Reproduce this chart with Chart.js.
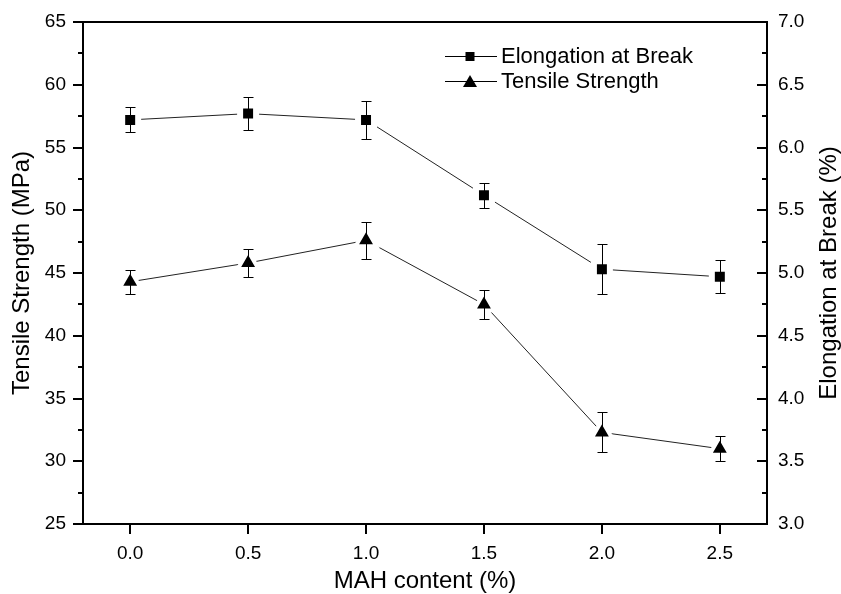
<!DOCTYPE html>
<html><head><meta charset="utf-8">
<script src="https://cdn.jsdelivr.net/npm/chart.js@4.4.0/dist/chart.umd.min.js"></script>
<style>html,body{margin:0;padding:0;background:#fff;}canvas{display:block;}</style>
</head><body>
<canvas id="c" width="841" height="594"></canvas>
<script>
const mahContent = [0.0, 0.5, 1.0, 1.5, 2.0, 2.5];
const tensileStrength = [44.3, 45.8, 47.6, 42.5, 32.3, 31.0];
const tensileErr = [0.95, 1.15, 1.5, 1.15, 1.6, 1.0];
const elongation = [6.22, 6.27, 6.22, 5.62, 5.03, 4.97];
const elongationErr = [0.10, 0.13, 0.15, 0.10, 0.20, 0.13];
const xTicks = [0.0, 0.5, 1.0, 1.5, 2.0, 2.5];
const leftTicks = [25, 27.5, 30, 32.5, 35, 37.5, 40, 42.5, 45, 47.5, 50, 52.5, 55, 57.5, 60, 62.5, 65];
const leftMajor = [25, 30, 35, 40, 45, 50, 55, 60, 65];
const rightTicks = [3.0, 3.25, 3.5, 3.75, 4.0, 4.25, 4.5, 4.75, 5.0, 5.25, 5.5, 5.75, 6.0, 6.25, 6.5, 6.75, 7.0];
const rightMajor = [3.0, 3.5, 4.0, 4.5, 5.0, 5.5, 6.0, 6.5, 7.0];
const seriesNames = ['Elongation at Break', 'Tensile Strength'];

const FONT = "'Liberation Sans', Arial, sans-serif";
Chart.defaults.font.family = FONT;
Chart.defaults.color = '#000';

const errorBars = {
  id: 'errorBars',
  afterDatasetsDraw(chart) {
    const ctx = chart.ctx, xs = chart.scales.x;
    chart.data.datasets.forEach(ds => {
      const ys = chart.scales[ds.yAxisID];
      ctx.save();
      ctx.strokeStyle = '#000'; ctx.lineWidth = 1;
      ds.data.forEach((p, j) => {
        const e = ds.errors[j];
        const x = Math.round(xs.getPixelForValue(p.x)) + 0.5;
        const y1 = Math.round(ys.getPixelForValue(p.y + e)) + 0.5;
        const y2 = Math.round(ys.getPixelForValue(p.y - e)) + 0.5;
        ctx.beginPath();
        ctx.moveTo(x, y1); ctx.lineTo(x, y2);
        ctx.moveTo(x - 5, y1); ctx.lineTo(x + 5, y1);
        ctx.moveTo(x - 5, y2); ctx.lineTo(x + 5, y2);
        ctx.stroke();
      });
      ctx.restore();
    });
  }
};

const decor = {
  id: 'decor',
  afterDraw(chart) {
    const {ctx, chartArea: a, scales} = chart;
    ctx.save();
    ctx.strokeStyle = '#000'; ctx.lineWidth = 2;
    ctx.beginPath();
    ctx.moveTo(a.left - 1, a.top); ctx.lineTo(a.right + 1, a.top);
    ctx.stroke();
    ctx.beginPath();
    scales.y.ticks.forEach(t => {
      const y = Math.round(scales.y.getPixelForValue(t.value));
      const len = leftMajor.includes(t.value) ? 10 : 5;
      ctx.moveTo(a.left, y); ctx.lineTo(a.left - len, y);
    });
    scales.y2.ticks.forEach(t => {
      const y = Math.round(scales.y2.getPixelForValue(t.value));
      const len = rightMajor.includes(t.value) ? 10 : 5;
      ctx.moveTo(a.right, y); ctx.lineTo(a.right - len, y);
    });
    scales.x.ticks.forEach(t => {
      const x = Math.round(scales.x.getPixelForValue(t.value));
      ctx.moveTo(x, a.bottom); ctx.lineTo(x, a.bottom + 10);
    });
    ctx.stroke();

    // right axis title (reads bottom to top)
    ctx.fillStyle = '#000';
    ctx.font = '24px ' + FONT;
    ctx.textAlign = 'center'; ctx.textBaseline = 'middle';
    ctx.save();
    ctx.translate(829, (a.top + a.bottom) / 2);
    ctx.rotate(-Math.PI / 2);
    ctx.fillText('Elongation at Break (%)', 0, 0);
    ctx.restore();

    // legend
    const lx0 = 445, lx1 = 497, mx = 470, tx = 501;
    const rows = [56, 81];
    ctx.lineWidth = 1;
    ctx.font = '22px ' + FONT;
    ctx.textAlign = 'left';
    rows.forEach((ry, i) => {
      ctx.beginPath(); ctx.moveTo(lx0, ry + 0.5); ctx.lineTo(lx1, ry + 0.5); ctx.stroke();
      ctx.fillStyle = '#000';
      if (i === 0) {
        ctx.fillRect(mx - 4.5, ry - 4, 9, 9);
      } else {
        ctx.beginPath();
        ctx.moveTo(mx, ry - 6); ctx.lineTo(mx + 7, ry + 6); ctx.lineTo(mx - 7, ry + 6);
        ctx.closePath(); ctx.fill();
      }
      ctx.fillText(seriesNames[i], tx, ry + 1);
    });
    ctx.restore();
  }
};

const toPts = (xs, ys) => xs.map((x, i) => ({x, y: ys[i]}));

new Chart(document.getElementById('c'), {
  type: 'line',
  data: {
    datasets: [
      {
        label: seriesNames[0], data: toPts(mahContent, elongation), errors: elongationErr,
        yAxisID: 'y2', borderColor: '#222', borderWidth: 1,
        pointStyle: 'rect', pointRadius: 11.3, pointBackgroundColor: '#000',
        pointBorderColor: '#fff', pointBorderWidth: 6, fill: false, tension: 0
      },
      {
        label: seriesNames[1], data: toPts(mahContent, tensileStrength), errors: tensileErr,
        yAxisID: 'y', borderColor: '#222', borderWidth: 1,
        pointStyle: 'triangle', pointRadius: 12, pointBackgroundColor: '#000',
        pointBorderColor: '#fff', pointBorderWidth: 4, fill: false, tension: 0
      }
    ]
  },
  options: {
    responsive: false, animation: false, devicePixelRatio: 1,
    layout: {padding: {top: 22, left: 0, right: 0, bottom: 0}},
    plugins: {legend: {display: false}, tooltip: {enabled: false}},
    scales: {
      x: {
        type: 'linear', position: 'bottom', min: -0.2, max: 2.7,
        afterBuildTicks: s => { s.ticks = xTicks.map(v => ({value: v})); },
        afterFit: s => { s.height = 70; },
        grid: {display: false},
        border: {display: true, color: '#000', width: 2},
        ticks: {font: {size: 19}, color: '#000', padding: 10, maxRotation: 0,
                callback: v => Number(v).toFixed(1)},
        title: {display: true, text: 'MAH content (%)', font: {size: 24, lineHeight: 1},
                color: '#000', padding: {top: 0, bottom: 1}}
      },
      y: {
        type: 'linear', position: 'left', min: 25, max: 65,
        afterBuildTicks: s => { s.ticks = leftTicks.map(v => ({value: v})); },
        afterFit: s => { s.width = 83; },
        grid: {display: false},
        border: {display: true, color: '#000', width: 2},
        ticks: {font: {size: 19}, color: '#000', padding: 9,
                callback: v => leftMajor.includes(v) ? String(v) : ''},
        title: {display: true, text: 'Tensile Strength (MPa)', font: {size: 24, lineHeight: 1},
                color: '#000', padding: {top: 10, bottom: 0}}
      },
      y2: {
        type: 'linear', position: 'right', min: 3, max: 7,
        afterBuildTicks: s => { s.ticks = rightTicks.map(v => ({value: v})); },
        afterFit: s => { s.width = 74; },
        grid: {display: false},
        border: {display: true, color: '#000', width: 2},
        ticks: {font: {size: 19}, color: '#000', padding: 3,
                callback: v => rightMajor.includes(v) ? Number(v).toFixed(1) : ''}
      }
    }
  },
  plugins: [errorBars, decor]
});
</script>
</body></html>
